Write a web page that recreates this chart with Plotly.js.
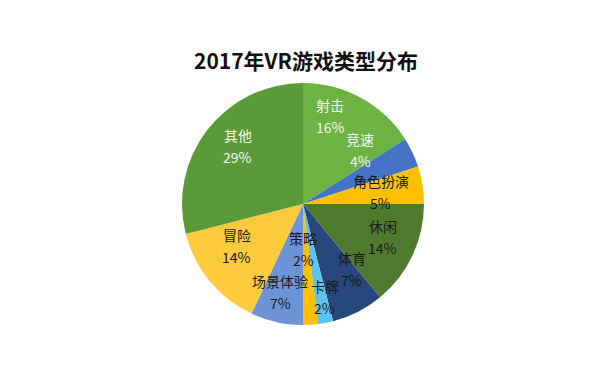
<!DOCTYPE html>
<html>
<head>
<meta charset="utf-8">
<script src="https://cdn.plot.ly/plotly-3.0.1.min.js"></script>
<style>html,body{margin:0;padding:0;background:#fff;}#chart{width:600px;height:385px;}</style>
</head>
<body>
<div id="chart"></div>
<script>
// ---- data ----
const categories = ["射击", "竞速", "角色扮演", "休闲", "体育", "卡牌", "策略", "场景体验", "冒险", "其他"];
const shares = [16, 4, 5, 14, 7, 2, 2, 7, 14, 29];
const titleText = "2017年VR游戏类型分布";

// ---- style ----
const colors = ["#6db344", "#4472c4", "#ffc000", "#4f7b2f", "#27467c", "#5cc3f0", "#ffc000", "#6e94d7", "#fccb3c", "#5b9a38"];
const textColors = ["#f2f7ee", "#f2f7ee", "#1a1a1a", "#1a1a1a", "#1a1a1a", "#1a1a1a", "#1a1a1a", "#1a1a1a", "#1a1a1a", "#f2f7ee"];
// label placement: [angle in degrees clockwise from 12 o'clock, fraction of radius]
const labelPlacement = [[17.1, 0.76], [46.5, 0.65], [81.3, 0.65], [112.4, 0.715], [143, 0.67], [167, 0.79], [180, 0.37], [194.6, 0.75], [237.5, 0.65], [311.7, 0.72]];

const W = 600, H = 385;
const cx = 303, cy = 204, R = 121;
const lineGap = 11;

const total = shares.reduce((a, b) => a + b, 0);
const annotations = [];
categories.forEach((c, i) => {
  const ang = labelPlacement[i][0] * Math.PI / 180;
  const r = labelPlacement[i][1] * R;
  const px = cx + r * Math.sin(ang);
  const py = cy - r * Math.cos(ang);
  const pct = Math.round(shares[i] / total * 100) + "%";
  [[c, py - lineGap], [pct, py + lineGap]].forEach(([t, y]) => {
    annotations.push({
      x: px / W, y: 1 - y / H, xref: "paper", yref: "paper",
      xanchor: "center", yanchor: "middle", showarrow: false,
      text: t,
      font: {family: "Noto Sans CJK SC", size: 14, color: textColors[i]}
    });
  });
});

const trace = {
  type: "pie",
  labels: categories,
  values: shares,
  sort: false,
  direction: "clockwise",
  rotation: 0,
  textinfo: "none",
  hoverinfo: "label+percent",
  marker: {colors: colors, line: {width: 0}},
  domain: {x: [(cx - R) / W, (cx + R) / W], y: [1 - (cy + R) / H, 1 - (cy - R) / H]},
  showlegend: false
};

const layout = {
  width: W, height: H,
  margin: {l: 0, r: 0, t: 0, b: 0},
  paper_bgcolor: "#ffffff",
  showlegend: false,
  title: {
    text: "<b>" + titleText + "</b>",
    x: 306 / W, xanchor: "center", y: 1 - 62 / H, yanchor: "middle", yref: "paper",
    font: {family: "Noto Sans CJK SC", size: 21, color: "#111111"}
  },
  annotations: annotations
};

Plotly.newPlot("chart", [trace], layout, {displayModeBar: false, staticPlot: true});
</script>
</body>
</html>
